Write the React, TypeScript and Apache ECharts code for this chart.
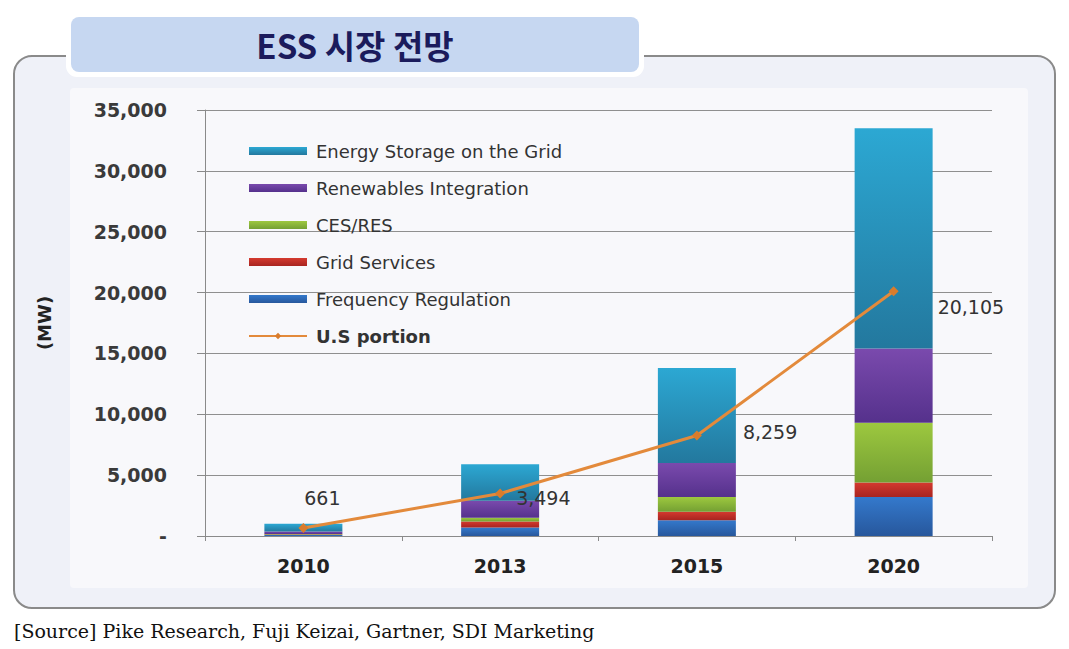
import React, { useEffect, useRef } from "react";
import * as echarts from "echarts";

// ---- data ----
const years = ["2010", "2013", "2015", "2020"];
const frequencyRegulation = [80, 700, 1300, 3200];
const gridServices = [40, 500, 700, 1200];
const cesRes = [40, 300, 1200, 4900];
const renewablesIntegration = [200, 1400, 2800, 6100];
const energyStorageGrid = [640, 3000, 7800, 18100];
const usPortion = [661, 3494, 8259, 20105];
const yMax = 35000;
const yStep = 5000;

const titleText = "ESS 시장 전망";
const sourceText = "[Source] Pike Research, Fuji Keizai, Gartner, SDI Marketing";
const axisName = "(MW)";

// label placement for the U.S portion values (styling, not data)
const usLabelPlacement: { position: string; offset: [number, number] }[] = [
  { position: "top", offset: [19, -10] },
  { position: "right", offset: [6, 5] },
  { position: "right", offset: [36, -3] },
  { position: "right", offset: [34, 16] },
];

const fmt = (v: number) => String(v).replace(/\B(?=(\d{3})+(?!\d))/g, ",");

const grad = (top: string, bottom: string) =>
  new echarts.graphic.LinearGradient(0, 0, 0, 1, [
    { offset: 0, color: top },
    { offset: 1, color: bottom },
  ]);

export default function App() {
  const ref = useRef<HTMLDivElement>(null);

  useEffect(() => {
    if (!ref.current) return;
    const chart = echarts.init(ref.current, undefined, { renderer: "svg" });

    const barBase = {
      type: "bar",
      stack: "total",
      barWidth: 78,
      z: 2,
    };

    const font = "DejaVu Sans";

    const option: any = {
      animation: false,
      backgroundColor: "#ffffff",
      graphic: [
        {
          type: "rect",
          shape: { x: 14, y: 56, width: 1041, height: 552, r: 18 },
          style: { fill: "#eff1f8", stroke: "#8a8a8a", lineWidth: 2 },
          z: -10,
          silent: true,
        },
        {
          type: "rect",
          shape: { x: 70, y: 88, width: 958, height: 500, r: 4 },
          style: { fill: "#f8f8fb" },
          z: -9,
          silent: true,
        },
        {
          type: "rect",
          shape: { x: 66, y: 12, width: 578, height: 65, r: 11 },
          style: { fill: "#ffffff" },
          z: -8,
          silent: true,
        },
        {
          type: "rect",
          shape: { x: 71, y: 17, width: 568, height: 55, r: 8 },
          style: { fill: "#c6d7f1" },
          z: -7,
          silent: true,
        },
        {
          type: "text",
          x: 355,
          y: 45,
          style: {
            text: titleText,
            fill: "#1b1b5c",
            font: "bold 33px 'Noto Sans CJK KR'",
            align: "center",
            verticalAlign: "middle",
          },
          z: 10,
        },
        {
          type: "text",
          x: 14,
          y: 631,
          style: {
            text: sourceText,
            fill: "#111111",
            font: "19px 'DejaVu Serif'",
            align: "left",
            verticalAlign: "middle",
          },
          z: 10,
        },
      ],
      grid: { left: 205, right: 77, top: 110, bottom: 113 },
      legend: {
        orient: "vertical",
        left: 243,
        top: 136,
        itemWidth: 58,
        itemHeight: 8,
        itemGap: 17,
        textStyle: {
          fontFamily: font,
          fontSize: 18,
          color: "#333333",
          lineHeight: 20,
          padding: [0, 0, 0, 4],
        },
        data: [
          { name: "Energy Storage on the Grid", icon: "rect" },
          { name: "Renewables Integration", icon: "rect" },
          { name: "CES/RES", icon: "rect" },
          { name: "Grid Services", icon: "rect" },
          { name: "Frequency Regulation", icon: "rect" },
          { name: "U.S portion", textStyle: { fontWeight: "bold" } },
        ],
      },
      xAxis: {
        type: "category",
        data: years,
        axisLine: { show: true, lineStyle: { color: "#8a8a8a", width: 1 } },
        axisTick: { show: true, length: 5, alignWithLabel: false, lineStyle: { color: "#8a8a8a" } },
        axisLabel: {
          margin: 20,
          fontFamily: font,
          fontWeight: "bold",
          fontSize: 19,
          color: "#222222",
        },
        splitLine: { show: false },
      },
      yAxis: {
        type: "value",
        min: 0,
        max: yMax,
        interval: yStep,
        name: axisName,
        nameLocation: "middle",
        nameRotate: 90,
        nameGap: 152,
        nameTextStyle: { fontFamily: font, fontWeight: "bold", fontSize: 18, color: "#222222" },
        axisLine: { show: true, lineStyle: { color: "#8a8a8a", width: 1 } },
        axisTick: { show: true, length: 8, lineStyle: { color: "#8a8a8a" } },
        axisLabel: {
          margin: 38,
          fontFamily: font,
          fontWeight: "bold",
          fontSize: 19,
          color: "#3a3a3a",
          formatter: (v: number) => (v === 0 ? "-" : fmt(v)),
        },
        splitLine: { show: true, lineStyle: { color: "#8f8f8f", width: 1 } },
      },
      series: [
        {
          ...barBase,
          name: "Frequency Regulation",
          data: frequencyRegulation,
          itemStyle: { color: grad("#3479cc", "#27579c") },
        },
        {
          ...barBase,
          name: "Grid Services",
          data: gridServices,
          itemStyle: { color: grad("#d43a2f", "#a82420") },
        },
        {
          ...barBase,
          name: "CES/RES",
          data: cesRes,
          itemStyle: { color: grad("#9dc83f", "#74a033") },
        },
        {
          ...barBase,
          name: "Renewables Integration",
          data: renewablesIntegration,
          itemStyle: { color: grad("#7a4aad", "#55318c") },
        },
        {
          ...barBase,
          name: "Energy Storage on the Grid",
          data: energyStorageGrid,
          itemStyle: { color: grad("#2ca8d3", "#23789e") },
        },
        {
          type: "line",
          name: "U.S portion",
          z: 5,
          data: usPortion.map((v, i) => ({
            value: v,
            label: {
              position: usLabelPlacement[i].position,
              offset: usLabelPlacement[i].offset,
            },
          })),
          symbol: "diamond",
          symbolSize: 10,
          lineStyle: { color: "#e38a3b", width: 3 },
          itemStyle: { color: "#d97c2c" },
          label: {
            show: true,
            fontFamily: font,
            fontSize: 19,
            color: "#333333",
            formatter: (p: any) => fmt(p.value),
          },
        },
      ],
    };

    chart.setOption(option);
    return () => chart.dispose();
  }, []);

  return (
    <div
      ref={ref}
      style={{ position: "fixed", left: 0, top: 0, width: 1069, height: 649, background: "#fff" }}
    />
  );
}
